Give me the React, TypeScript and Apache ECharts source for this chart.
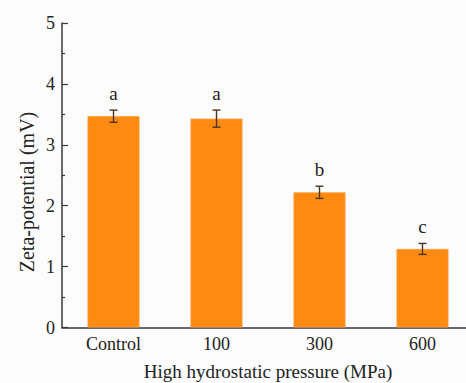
import React, { useEffect, useRef } from "react";
import * as echarts from "echarts";

const categories = ["Control", "100", "300", "600"];
const zetaValues = [3.47, 3.43, 2.22, 1.29];
const errorValues = [0.1, 0.14, 0.1, 0.09];
const letters = ["a", "a", "b", "c"];
const yTicks = { min: 0, max: 5, interval: 1 };

export default function App() {
  const ref = useRef<HTMLDivElement>(null);
  useEffect(() => {
    if (!ref.current) return;
    const chart = echarts.init(ref.current, null, { renderer: "svg" });
    const font = '"Liberation Serif", "DejaVu Serif", "Times New Roman", serif';
    const errData = categories.map((_, i) => [i, zetaValues[i] - errorValues[i], zetaValues[i] + errorValues[i]]);
    const letterData = categories.map((_, i) => [i, zetaValues[i] + errorValues[i], letters[i]]);
    chart.setOption({
      animation: false,
      backgroundColor: "#fcfcfc",
      textStyle: { fontFamily: font },
      grid: { left: 62, right: -8, top: 23, bottom: 55.5, outerBoundsMode: "none", containLabel: false },
      xAxis: {
        type: "category",
        data: categories,
        axisLine: { lineStyle: { color: "#3a3a3a", width: 1.5 } },
        axisTick: { show: false },
        axisLabel: { color: "#222", fontFamily: font, fontSize: 18, margin: 7 },
        name: "High hydrostatic pressure (MPa)",
        nameLocation: "middle",
        nameGap: 34,
        nameTextStyle: { color: "#222", fontFamily: font, fontSize: 19, verticalAlign: "top" },
      },
      yAxis: {
        type: "value",
        min: yTicks.min,
        max: yTicks.max,
        interval: yTicks.interval,
        axisLine: { show: true, lineStyle: { color: "#3a3a3a", width: 1.5 } },
        axisTick: { show: true, inside: true, length: 6, lineStyle: { color: "#3a3a3a", width: 1.2 } },
        minorTick: { show: true, splitNumber: 2, length: 3, lineStyle: { color: "#3a3a3a", width: 1.2 } },
        splitLine: { show: false },
        axisLabel: { color: "#222", fontFamily: font, fontSize: 18, margin: 7 },
      },
      graphic: [
        {
          type: "text",
          x: 27,
          y: 192,
          rotation: Math.PI / 2,
          style: {
            text: "Zeta-potential (mV)",
            fill: "#222",
            fontFamily: font,
            fontSize: 20,
            align: "center",
            verticalAlign: "middle",
          },
        },
      ],
      series: [
        {
          type: "bar",
          data: zetaValues,
          barWidth: "50.5%",
          itemStyle: { color: "#ff8a12", borderColor: "#ffa040", borderWidth: 0.8 },
          z: 2,
        },
        {
          type: "custom",
          data: errData,
          z: 5,
          renderItem: (params: any, api: any) => {
            const x = api.value(0);
            const lo = api.coord([x, api.value(1)]);
            const hi = api.coord([x, api.value(2)]);
            const half = 4;
            const style = { stroke: "#4a3520", lineWidth: 1.4 };
            return {
              type: "group",
              children: [
                { type: "line", shape: { x1: hi[0], y1: hi[1], x2: lo[0], y2: lo[1] }, style },
                { type: "line", shape: { x1: hi[0] - half, y1: hi[1], x2: hi[0] + half, y2: hi[1] }, style },
                { type: "line", shape: { x1: lo[0] - half, y1: lo[1], x2: lo[0] + half, y2: lo[1] }, style },
              ],
            };
          },
        },
        {
          type: "custom",
          data: letterData,
          z: 6,
          renderItem: (params: any, api: any) => {
            const idx = params.dataIndex;
            const p = api.coord([api.value(0), api.value(1)]);
            return {
              type: "text",
              x: p[0],
              y: p[1] - 17,
              style: {
                text: letters[idx],
                fill: "#222",
                fontFamily: font,
                fontSize: 19,
                align: "center",
                verticalAlign: "middle",
              },
            };
          },
        },
      ],
    });
    return () => chart.dispose();
  }, []);
  return <div ref={ref} style={{ position: "fixed", left: 0, top: 0, width: 466, height: 383 }} />;
}
